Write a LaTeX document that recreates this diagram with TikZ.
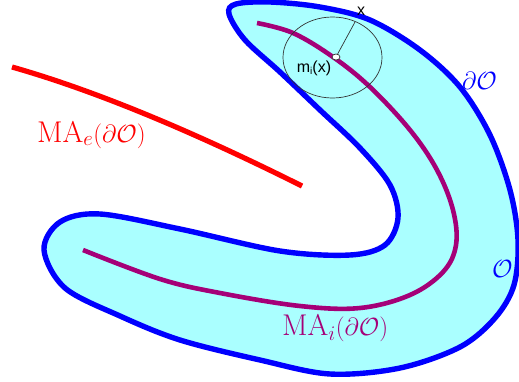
\documentclass[tikz,border=0pt]{standalone}
\usepackage{fontspec}
\newfontfamily\lblfont{Liberation Sans}
\usetikzlibrary{shapes.geometric, positioning}

\definecolor{domfill}{RGB}{170,255,255}
\definecolor{bdryblue}{RGB}{0,0,255}
\definecolor{medpurple}{RGB}{165,0,120}

\begin{document}
\begin{tikzpicture}[
    x=1pt, y=-1pt,
    every node/.style = {inner sep=0pt, font=\fontsize{30}{33}\selectfont},
    region/.style = {
        fill=domfill, draw=bdryblue, line width=5.4pt
    },
    medial/.style = {
        draw=medpurple, line width=4.6pt
    },
    exterior/.style = {
        draw=red, line width=5.2pt
    },
    ball/.style = {draw=black!80, line width=0.7pt},
    footdot/.style = {
        ellipse, draw=black!80, fill=white, line width=0.7pt,
        minimum width=8pt, minimum height=6pt
    },
    small/.style = {font=\lblfont\fontsize{16}{18}\selectfont, text=black}
]
\useasboundingbox (0,0) rectangle (519,381);

%% Domain O and its boundary
\filldraw[region] plot[smooth cycle, tension=0.55] coordinates {
    (236,4) (270,2) (320,7) (370,20) (420,50) (460,87) (490,135)
    (510,190) (518,240) (514,285) (495,318) (460,347) (400,368)
    (330,374) (260,360) (180,340) (120,316) (65,288) (44,250)
    (60,222) (100,214) (180,229) (280,251) (350,255) (385,245)
    (398,218) (390,185) (360,148) (320,110) (280,72) (245,40)
    (229,14)};

%% Interior medial axis
\draw[medial] plot[smooth, tension=0.6] coordinates {
    (257,23) (293,33) (333,57) (370,87) (410,130) (437,170)
    (453,210) (456,245) (443,272) (410,295) (360,308) (300,306)
    (220,293) (160,279) (83,250)};

%% Exterior medial axis
\draw[exterior] (12,67) .. controls (100,92) and (200,135) .. (302,186);

%% Maximal ball at m_i(x)
\draw[ball] (332.5,57.5) ellipse [x radius=49.5pt, y radius=40.5pt];
\node[footdot] (foot) at (336,57) {};
\coordinate (touch) at (355,22);
\draw[ball] (foot) -- (touch);
\node[small, anchor=base west] (xlbl) at (357,15) {x};
\node[small, anchor=base] (mlbl) at (314,72) {m\raisebox{-0.35ex}{\fontsize{10}{11}\selectfont i}(x)};

%% Labels
\node[anchor=base west, text=red] (mae) at (37,142)
    {$\mathrm{MA}_e(\partial\mathcal{O})$};
\node[anchor=base west, text=medpurple] (mai) at (282,335)
    {$\mathrm{MA}_i(\partial\mathcal{O})$};
\node[anchor=base west, text=bdryblue] (bdlbl) at (462,89)
    {$\partial\mathcal{O}$};
\node[anchor=base west, text=bdryblue] (olbl) at (492,277)
    {$\mathcal{O}$};

\end{tikzpicture}
\end{document}
